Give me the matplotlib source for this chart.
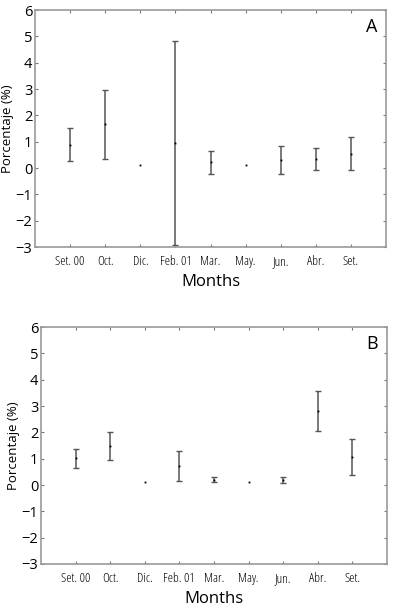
import matplotlib
matplotlib.use("Agg")
import matplotlib.pyplot as plt

months = ["Set. 00", "Oct.", "Dic.", "Feb. 01", "Mar.", "May.", "Jun.", "Abr.", "Set."]

# panel A
mean_a = [0.89, 1.66, 0.13, 0.95, 0.22, 0.13, 0.31, 0.34, 0.54]
err_a = [0.62, 1.30, 0.0, 3.87, 0.43, 0.0, 0.54, 0.43, 0.63]

# panel B
mean_b = [1.01, 1.48, 0.11, 0.72, 0.20, 0.11, 0.19, 2.82, 1.06]
err_b = [0.36, 0.53, 0.0, 0.56, 0.09, 0.0, 0.13, 0.76, 0.67]

yticks = [-3, -2, -1, 0, 1, 2, 3, 4, 5, 6]

plt.rcParams['font.family'] = ['Open Sans', 'DejaVu Sans']

fig = plt.figure(figsize=(3.94, 6.09), dpi=100)
ax_a = fig.add_axes([0.089, 0.5944, 0.891, 0.389])
ax_b = fig.add_axes([0.104, 0.0739, 0.878, 0.389])

for ax, m, e, letter in [(ax_a, mean_a, err_a, "A"), (ax_b, mean_b, err_b, "B")]:
    x = list(range(len(months)))
    for xi, mi, ei in zip(x, m, e):
        if ei > 0:
            ax.errorbar(xi, mi, yerr=ei, fmt='none', ecolor='#555555',
                        elinewidth=1.1, capsize=2.2, capthick=1.0)
    ax.plot(x, m, 's', color='black', ms=1.3, mew=0)
    ax.set_xlim(-1, 9)
    ax.set_ylim(-3, 6)
    ax.set_yticks(yticks)
    ax.set_xticks(x)
    ax.set_xticklabels(months, fontsize=9.5, fontstretch='condensed')
    ax.tick_params(axis='y', labelsize=10.5, direction='in', length=2.5, right=True, color='#777777', pad=2)
    ax.tick_params(axis='x', direction='in', length=2.5, top=True, color='#777777', pad=6)
    for s in ax.spines.values():
        s.set_color('#999999')
        s.set_linewidth(1.2)
    ax.set_xlabel("Months", fontsize=12, labelpad=4)
    ax.set_ylabel("Porcentaje (%)", fontsize=9.5, labelpad=1)
    ax.text(0.975, 0.93, letter, transform=ax.transAxes, ha='right', va='center', fontsize=13)

fig.savefig("out.png", dpi=100)
